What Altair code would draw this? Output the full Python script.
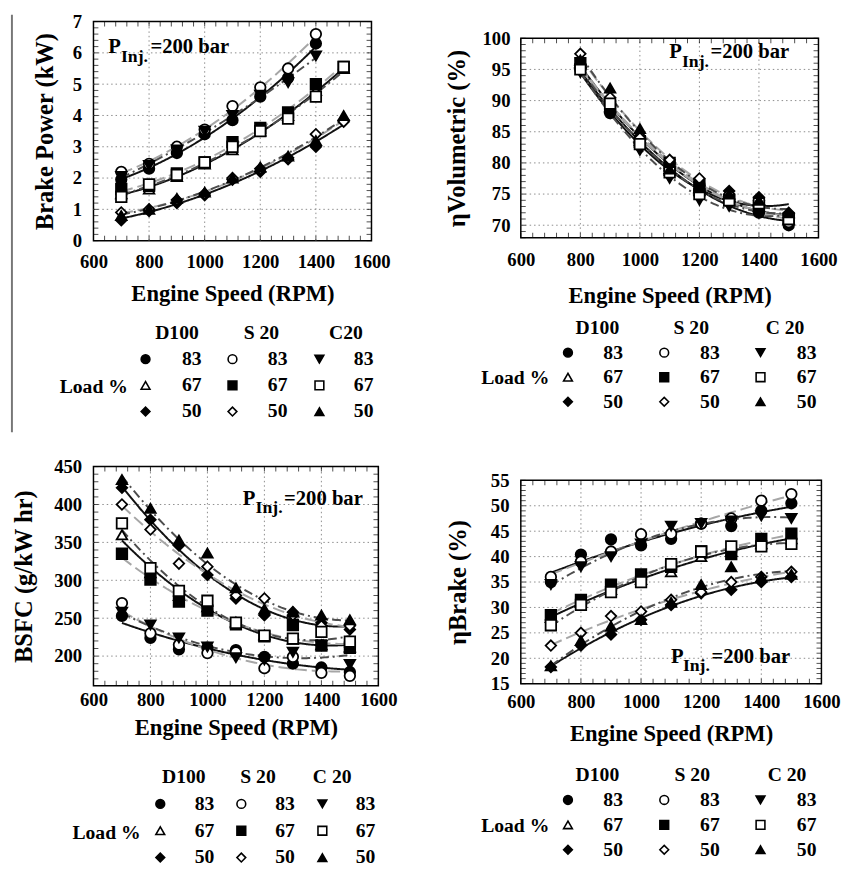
import altair as alt
import pandas as pd

FONT = "Liberation Serif"

rpm = [700, 800, 900, 1000, 1100, 1200, 1300, 1400, 1500]
x_ticks = [600, 800, 1000, 1200, 1400, 1600]
x_minor = list(range(600, 1601, 40))
fuel_codes = ["D100", "S20", "C20"]
loads = ["83", "67", "50"]
series = ["D100-83", "D100-67", "D100-50", "S20-83", "S20-67", "S20-50",
          "C20-83", "C20-67", "C20-50"]
marker_shapes = ["circle", "triangle-up", "diamond", "circle", "square", "diamond",
                 "triangle-down", "square", "triangle-up"]
marker_fills = ["black", "white", "black", "white", "black", "white",
                "black", "white", "black"]
line_colors = ["#111111", "#a6a6a6", "#4d4d4d"]
line_dashes = [[1, 0], [12, 5], [9, 4, 2, 4]]

# Brake power (kW)
bp_d100_83 = [1.95, 2.3, 2.8, 3.4, 3.85, 4.6, 5.2, 6.3, None]
bp_d100_67 = [1.5, 1.65, 2.05, 2.45, 2.9, 3.5, 4.0, 4.8, 5.5]
bp_d100_50 = [0.65, 0.95, 1.2, 1.45, 1.95, 2.2, 2.6, 3.0, 3.85]
bp_s20_83 = [2.2, 2.45, 3.0, 3.55, 4.3, 4.9, 5.5, 6.6, None]
bp_s20_67 = [1.65, 1.75, 2.15, 2.5, 3.15, 3.6, 4.1, 5.0, 5.55]
bp_s20_50 = [0.9, 1.0, 1.3, 1.5, 2.0, 2.3, 2.65, 3.4, 3.8]
bp_c20_83 = [2.05, 2.4, 2.9, 3.5, 4.0, 4.65, 5.05, 5.9, None]
bp_c20_67 = [1.4, 1.8, 2.1, 2.5, 3.0, 3.5, 3.9, 4.6, 5.55]
bp_c20_50 = [0.8, 1.0, 1.35, 1.55, 2.0, 2.35, 2.7, 3.2, 4.0]

# Volumetric efficiency (%)
ve_d100_83 = [None, 95.5, 88, 83, 79, 75.5, 74, 72, 70]
ve_d100_67 = [None, 96, 89, 84, 79.5, 76, 74.5, 73, 71]
ve_d100_50 = [None, 95, 88, 82.5, 78, 75, 75.5, 74.5, 72]
ve_s20_83 = [None, 95, 90, 84, 80, 76.5, 74, 73, 70.5]
ve_s20_67 = [None, 96, 89, 83.5, 80, 76.5, 74, 73, 71]
ve_s20_50 = [None, 97.5, 90.5, 84, 80.5, 77.5, 75, 74, 71.5]
ve_c20_83 = [None, 94.5, 88.5, 82, 77.5, 74, 73, 72.5, 71]
ve_c20_67 = [None, 95, 89.5, 83, 78.5, 75, 74, 73.5, 71]
ve_c20_50 = [None, 96.5, 92, 85.5, 79, 76, 75, 74, 72]

# BSFC (g/kW hr)
bs_d100_83 = [253, 224, 209, 211, 208, 199, 190, 185, 179]
bs_d100_67 = [360, 310, 280, 265, 245, 228, 222, 215, 212]
bs_d100_50 = [422, 380, 346, 307, 276, 254, 258, 244, 235]
bs_s20_83 = [270, 230, 215, 204, 205, 184, 199, 178, 174]
bs_s20_67 = [335, 301, 272, 260, 242, 226, 241, 214, 211]
bs_s20_50 = [400, 367, 322, 318, 280, 276, 254, 240, 240]
bs_c20_83 = [258, 241, 224, 212, 198, 195, 205, 214, 189]
bs_c20_67 = [375, 316, 286, 273, 244, 227, 223, 232, 219]
bs_c20_50 = [433, 395, 353, 336, 290, 262, 258, 254, 248]

# Brake thermal efficiency (%)
be_d100_83 = [35, 40.4, 43.4, 42.2, 43.5, 46.5, 46, 49, 50.5]
be_d100_67 = [28, 31, 33.5, 35.5, 37, 40, 41, 42.5, 43.5]
be_d100_50 = [18.3, 22.5, 24.7, 27.6, 30.5, 32.8, 33.5, 35, 36]
be_s20_83 = [36, 39, 41, 44.4, 44.5, 46.5, 47.5, 51, 52.3]
be_s20_67 = [28.5, 31.5, 34.5, 36.5, 38, 41, 40.5, 43.5, 44.5]
be_s20_50 = [22.5, 25, 28.3, 29.2, 31.5, 33, 35, 36, 37]
be_c20_83 = [34.5, 38, 40, 42.5, 46, 46.5, 47, 48, 47.5]
be_c20_67 = [26.5, 30.5, 33, 35, 38.5, 41, 42, 42, 42.5]
be_c20_50 = [18.5, 23.5, 26.3, 27.6, 31, 34.5, 38, 36, 36.5]

bp = [bp_d100_83, bp_d100_67, bp_d100_50, bp_s20_83, bp_s20_67, bp_s20_50, bp_c20_83, bp_c20_67, bp_c20_50]
ve = [ve_d100_83, ve_d100_67, ve_d100_50, ve_s20_83, ve_s20_67, ve_s20_50, ve_c20_83, ve_c20_67, ve_c20_50]
bs = [bs_d100_83, bs_d100_67, bs_d100_50, bs_s20_83, bs_s20_67, bs_s20_50, bs_c20_83, bs_c20_67, bs_c20_50]
be = [be_d100_83, be_d100_67, be_d100_50, be_s20_83, be_s20_67, be_s20_50, be_c20_83, be_c20_67, be_c20_50]


def long_df(table):
    rows = []
    for s, vals in zip(series, table):
        f, l = s.split("-")
        for r, v in zip(rpm, vals):
            if v is not None:
                rows.append({"rpm": r, "val": v, "series": s, "fuel": f, "load": l})
    return pd.DataFrame(rows)


one = pd.DataFrame({"k": [0]})
shape_scale = alt.Scale(domain=series, range=marker_shapes)
fill_scale = alt.Scale(domain=series, range=marker_fills)


def txt(s, x, y, size=21, align="left", baseline="alphabetic"):
    return alt.Chart(one).mark_text(
        text=s, font=FONT, fontSize=size, fontWeight="bold", color="black",
        align=align, baseline=baseline
    ).encode(x=alt.value(x), y=alt.value(y))


def panel(table, ydom, yticks, yminor_step, w, h, ytitle, yrange, xpad, xtpad, ypad, ytpad,
          ann, leg, headers, extra=None):
    df = long_df(table)
    xs = alt.Scale(domain=[600, 1600], nice=False, zero=False)
    ykw = dict(domain=ydom, nice=False, zero=False)
    if yrange is not None:
        ykw["range"] = yrange
    ys = alt.Scale(**ykw)

    xaxis = alt.Axis(values=x_ticks, title="Engine Speed (RPM)", grid=False, ticks=False,
                     domain=False, labelFont=FONT, labelFontSize=19, labelFontWeight="bold",
                     labelColor="black", labelPadding=xpad, labelFlush=False,
                     labelOverlap=False, titleFont=FONT, titleFontSize=23,
                     titleFontWeight="bold", titleColor="black", titlePadding=xtpad,
                     format="d")
    yaxis = alt.Axis(values=yticks, title=ytitle, grid=False, ticks=False, domain=False,
                     labelFont=FONT, labelFontSize=19, labelFontWeight="bold",
                     labelColor="black", labelPadding=ypad, labelOverlap=False,
                     titleFont=FONT, titleFontSize=25, titleFontWeight="bold",
                     titleColor="black", titlePadding=ytpad, format="d")

    frame = alt.Chart(one).mark_rect(fillOpacity=0, stroke="black", strokeWidth=1.5).encode(
        x=alt.XDatum(600, scale=xs, axis=xaxis), x2=alt.X2Datum(1600),
        y=alt.YDatum(ydom[0], scale=ys, axis=yaxis), y2=alt.Y2Datum(ydom[1]))
    vgrid = alt.Chart(pd.DataFrame({"gx": x_ticks[1:-1]})).mark_rule(
        color="#8c8c8c", strokeDash=[1.5, 3], strokeWidth=1).encode(
        x=alt.X("gx:Q", scale=xs, axis=xaxis),
        y=alt.YDatum(ydom[0], scale=ys, axis=yaxis), y2=alt.Y2Datum(ydom[1]))
    hgrid = alt.Chart(pd.DataFrame({"gy": [t for t in yticks if ydom[0] < t < ydom[1]]})).mark_rule(
        color="#8c8c8c", strokeDash=[1.5, 3], strokeWidth=1).encode(
        y=alt.Y("gy:Q", scale=ys, axis=yaxis),
        x=alt.XDatum(600, scale=xs, axis=xaxis), x2=alt.X2Datum(1600))

    xm = pd.DataFrame({"mx": x_minor})
    ym_vals = []
    v = yticks[0]
    while v > ydom[0]:
        v -= yminor_step
    while v <= ydom[1] + 1e-9:
        if v >= ydom[0] - 1e-9:
            ym_vals.append(round(v, 4))
        v += yminor_step
    ym = pd.DataFrame({"my": ym_vals})
    tick_kw = dict(color="black", thickness=1, size=5)
    mt_bottom = alt.Chart(xm).mark_tick(orient="vertical", yOffset=-2.5, **tick_kw).encode(
        x=alt.X("mx:Q", scale=xs, axis=xaxis), y=alt.YDatum(ydom[0], scale=ys, axis=yaxis))
    mt_top = alt.Chart(xm).mark_tick(orient="vertical", yOffset=2.5, **tick_kw).encode(
        x=alt.X("mx:Q", scale=xs, axis=xaxis), y=alt.YDatum(ydom[1], scale=ys, axis=yaxis))
    mt_left = alt.Chart(ym).mark_tick(orient="horizontal", xOffset=2.5, **tick_kw).encode(
        y=alt.Y("my:Q", scale=ys, axis=yaxis), x=alt.XDatum(600, scale=xs, axis=xaxis))
    mt_right = alt.Chart(ym).mark_tick(orient="horizontal", xOffset=-2.5, **tick_kw).encode(
        y=alt.Y("my:Q", scale=ys, axis=yaxis), x=alt.XDatum(1600, scale=xs, axis=xaxis))

    lines = alt.Chart(df).transform_regression(
        "rpm", "val", groupby=["series", "fuel"], method="poly", order=2
    ).mark_line(strokeWidth=2).encode(
        x=alt.X("rpm:Q", scale=xs, axis=xaxis),
        y=alt.Y("val:Q", scale=ys, axis=yaxis),
        detail="series:N",
        color=alt.Color("fuel:N", scale=alt.Scale(domain=fuel_codes, range=line_colors), legend=None),
        strokeDash=alt.StrokeDash("fuel:N", scale=alt.Scale(domain=fuel_codes, range=line_dashes), legend=None))
    points = alt.Chart(df).mark_point(filled=True, size=115, stroke="black", strokeWidth=1.8,
                                      opacity=1).encode(
        x=alt.X("rpm:Q", scale=xs, axis=xaxis),
        y=alt.Y("val:Q", scale=ys, axis=yaxis),
        shape=alt.Shape("series:N", scale=shape_scale, legend=None),
        fill=alt.Fill("series:N", scale=fill_scale, legend=None))
    (px, pb), (ix, ib), (ex, eb) = ann
    layers = [frame, vgrid, hgrid, mt_bottom, mt_top, mt_left, mt_right, lines, points,
              txt("P", px, pb), txt("Inj.", ix, ib, size=18), txt("=200 bar", ex, eb)]
    if extra is not None:
        layers.append(extra)
    data_group = alt.layer(*layers)

    mx, nx, hx, ry, loadpos = leg
    leg_df = pd.DataFrame([{"col": i, "row": j + 1, "series": f"{fuel_codes[i]}-{loads[j]}",
                            "load": loads[j]} for i in range(3) for j in range(3)])
    hdr_df = pd.DataFrame({"col": [0, 1, 2], "row": [0, 0, 0], "label": headers})
    yrow = lambda: alt.Scale(domain=[0, 3], range=ry)
    leg_pts = alt.Chart(leg_df).mark_point(filled=True, size=80, stroke="black",
                                           strokeWidth=1.6, opacity=1).encode(
        x=alt.X("col:Q", scale=alt.Scale(domain=[0, 2], range=mx), axis=None),
        y=alt.Y("row:Q", scale=yrow(), axis=None),
        shape=alt.Shape("series:N", scale=shape_scale, legend=None),
        fill=alt.Fill("series:N", scale=fill_scale, legend=None))
    leg_num = alt.Chart(leg_df).mark_text(font=FONT, fontSize=20, fontWeight="bold",
                                          color="black", baseline="middle").encode(
        x=alt.X("col:Q", scale=alt.Scale(domain=[0, 2], range=nx), axis=None),
        y=alt.Y("row:Q", scale=yrow(), axis=None),
        text="load:N")
    leg_hdr = alt.Chart(hdr_df).mark_text(font=FONT, fontSize=20, fontWeight="bold",
                                          color="black", baseline="middle").encode(
        x=alt.X("col:Q", scale=alt.Scale(domain=[0, 2], range=hx), axis=None),
        y=alt.Y("row:Q", scale=yrow(), axis=None),
        text="label:N")
    leg_load = txt("Load %", loadpos[0], loadpos[1], size=20, align="right", baseline="middle")

    return alt.layer(data_group, leg_pts, leg_num, leg_hdr, leg_load).resolve_scale(
        x="independent", y="independent").properties(width=w, height=h)


artifact = alt.Chart(one).mark_rule(color="#777777", strokeWidth=2).encode(
    x=alt.value(-83), y=alt.value(-7), y2=alt.value(418))

tl = panel(bp, [0, 7], [0, 1, 2, 3, 4, 5, 6, 7], 0.2, 283, 223, "Brake Power (kW)", None,
           12, 12, 12, 15,
           ((15, 32), (28, 41), (58, 32)),
           ([53, 230], [100, 275], [85, 257], [317, 397], (35, 372)),
           ["D100", "S 20", "C20"], extra=artifact)
tr = panel(ve, [68, 100], [70, 75, 80, 85, 90, 95, 100], 1, 303, 220, "ηVolumetric  (%)", [220, 17],
           13, 16, 11, 13,
           ((151, 37), (164, 46), (193, 37)),
           ([48, 244], [94, 291], [78, 269], [312, 387], (29, 363)),
           ["D100", "S 20", "C 20"])
bl = panel(bs, [161, 450], [200, 250, 300, 350, 400, 450], 10, 290, 223, "BSFC (g/kW hr)", None,
           5, 8, 12, 18,
           ((152, 39), (165, 47), (194, 39)),
           ([68, 233], [113, 277], [92, 243], [316, 398], (48, 373)),
           ["D100", "S 20", "C 20"])
br = panel(be, [15, 55], [15, 20, 25, 30, 35, 40, 45, 50, 55], 1, 306, 221, "ηBrake  (%)", [221, 14],
           9, 12, 12, 20,
           ((153, 200), (165, 208), (194, 200)),
           ([48, 244], [94, 291], [78, 271], [314, 390], (29, 366)),
           ["D100", "S 20", "C 20"])

chart = alt.concat(tl, tr, bl, br, columns=2, spacing={"row": 25, "column": 48},
                   align="each").properties(
    padding={"left": 3, "top": -3, "right": 5, "bottom": 5}
).configure_view(strokeWidth=0)

chart.save("out.html", embed_options={"renderer": "svg", "actions": False})
